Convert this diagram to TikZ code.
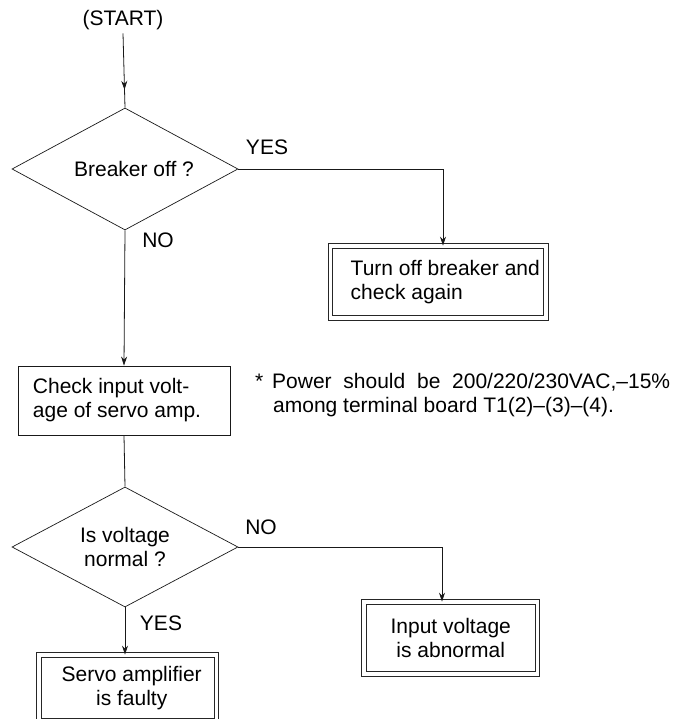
\documentclass[tikz,border=0pt]{standalone}
\usepackage{fontspec}
\setmainfont{Liberation Sans}
\usetikzlibrary{arrows.meta,shapes.geometric,decorations.markings}
\begin{document}
\begin{tikzpicture}[x=1pt,y=-1pt,
  font=\fontsize{21}{24}\selectfont,
  flow/.style={line width=0.8pt, draw=black!90},
  arr/.style={flow, -{Stealth[length=9pt,width=6pt]}},
  midarr/.style={flow, decoration={markings, mark=at position #1 with {\arrow{Stealth[length=9pt,width=6pt]}}}, postaction={decorate}},
  decision/.style={diamond, draw=black!90, line width=0.7pt, aspect=1.85, inner sep=0pt, minimum width=226pt, align=center},
  process/.style={rectangle, draw=black!90, line width=0.8pt, inner sep=0pt, align=left},
  terminal/.style={rectangle, draw=black!85, double=white, double distance=3.8pt, line width=0.7pt, inner sep=0pt},
  lbl/.style={inner sep=0pt}]
\path[use as bounding box, clip] (0,0) rectangle (673,719);

\node (start) at (123,20) {(START)};
\node[decision, minimum height=122pt] (d1) at (125,169) {\hspace*{18pt}Breaker off ?};
\node[terminal, minimum width=215.5pt, minimum height=72pt, align=left] (tb) at (438.25,282)
  {\hspace*{14pt}Turn off breaker and\\\hspace*{14pt}check again};
\node[process, minimum width=212pt, minimum height=69pt] (ci) at (124,400.5)
  {Check input volt-\\age of servo amp.\hspace*{14pt}};
\node[lbl, anchor=north west, text width=415pt, align=justify] (note) at (255,373)
  {\makebox[17pt][l]{*}Power should be 200/220/230VAC,–15\%\linebreak
   \hspace*{18pt}among terminal board T1(2)–(3)–(4).};
\node[decision, minimum height=120pt] (d2) at (125,547) {Is voltage\\normal ?};
\node[terminal, minimum width=173.5pt, minimum height=72pt, align=center] (ia) at (450.75,638)
  {Input voltage\\is abnormal};
\node[terminal, minimum width=177.5pt, minimum height=65.5pt, align=center] (sf) at (127.75,687.75)
  {\hspace*{8pt}Servo amplifier\\\hspace*{8pt}is faulty};

\node[lbl] (yes1) at (267,147) {YES};
\node[lbl] (no1) at (158,240) {NO};
\node[lbl] (no2) at (261,527) {NO};
\node[lbl] (yes2) at (161,623) {YES};

\coordinate (c1) at (443,169);
\coordinate (c2) at (442,547);

\draw[midarr=0.76] (start.south) -- (d1.north);
\draw[arr] (d1.east) -- (c1) -- (c1 |- tb.north);
\draw[arr] (d1.south) -- (ci.north);
\draw[flow] (ci.south) -- (d2.north);
\draw[arr] (d2.east) -- (c2) -- (c2 |- ia.north);
\draw[arr] (d2.south) -- (d2.south |- sf.north);
\end{tikzpicture}
\end{document}
